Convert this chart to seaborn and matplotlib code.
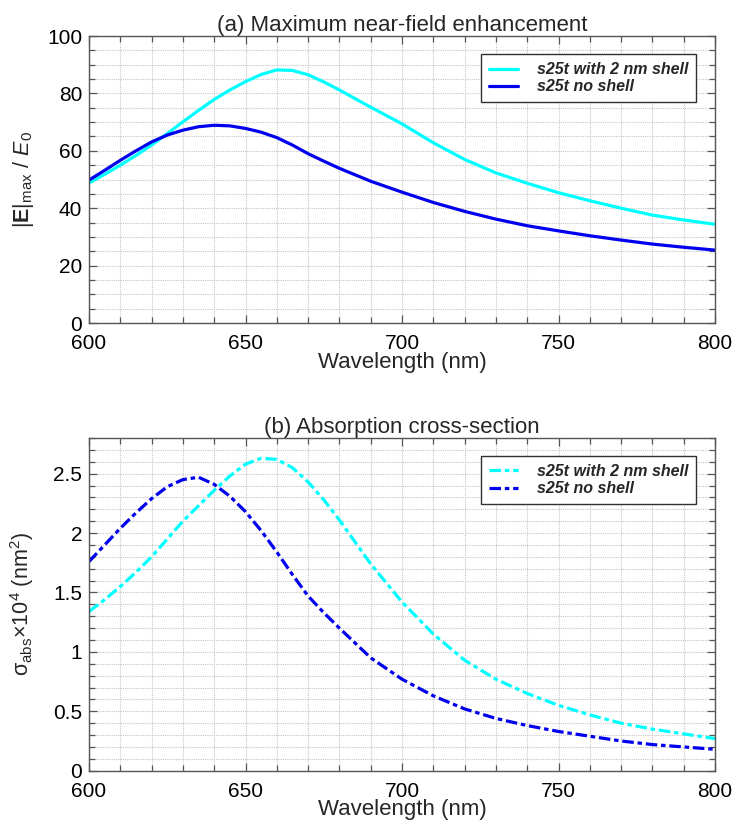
import numpy as np
import pandas as pd
import seaborn as sns
import matplotlib
matplotlib.use("Agg")
import matplotlib.pyplot as plt
from matplotlib.ticker import MultipleLocator, FuncFormatter

# ---------------- data ----------------
wavelength = [600, 605, 610, 615, 620, 625, 630, 635, 640, 645, 650, 655, 660, 665,
              670, 675, 680, 690, 700, 710, 720, 730, 740, 750, 760, 770, 780, 790, 800]

enh_shell = [48.8, 51.8, 55.0, 58.4, 62.0, 66.0, 70.1, 74.1, 77.9, 81.2, 84.1, 86.6, 88.2, 88.0,
             86.5, 84.0, 81.2, 75.2, 69.4, 62.8, 57.0, 52.3, 48.7, 45.4, 42.6, 40.0, 37.6, 35.9, 34.4]
enh_noshell = [49.8, 53.2, 56.7, 60.0, 63.1, 65.5, 67.2, 68.4, 68.9, 68.7, 67.8, 66.5, 64.6, 62.0,
               59.0, 56.4, 53.9, 49.4, 45.6, 42.0, 38.9, 36.2, 33.9, 32.1, 30.4, 28.9, 27.5, 26.4, 25.4]

abs_shell = [1.34, 1.44, 1.55, 1.67, 1.80, 1.95, 2.10, 2.23, 2.36, 2.48, 2.58, 2.63, 2.62, 2.55,
             2.43, 2.28, 2.11, 1.74, 1.42, 1.15, 0.93, 0.77, 0.65, 0.55, 0.47, 0.40, 0.35, 0.31, 0.27]
abs_noshell = [1.76, 1.90, 2.04, 2.17, 2.29, 2.39, 2.45, 2.47, 2.41, 2.31, 2.18, 2.02, 1.84, 1.65,
               1.47, 1.33, 1.20, 0.95, 0.77, 0.63, 0.52, 0.44, 0.38, 0.33, 0.29, 0.25, 0.22, 0.20, 0.18]

series_names = ["s25t with 2 nm shell", "s25t no shell"]
series_colors = ["#00FFFF", "#0000EE"]
xticks = [600, 650, 700, 750, 800]

title_a = "(a) Maximum near-field enhancement"
title_b = "(b) Absorption cross-section"
xlabel = "Wavelength (nm)"
ylabel_a = r"|$\mathbf{E}$|$_{\mathrm{max}}$ / $E_0$"
ylabel_b = r"σ$_{\mathrm{abs}}$×10$^4$ (nm$^2$)"

# ---------------- tables ----------------
df_a = pd.DataFrame({
    "wl": wavelength * 2,
    "val": enh_shell + enh_noshell,
    "series": [series_names[0]] * len(wavelength) + [series_names[1]] * len(wavelength),
})
df_b = pd.DataFrame({
    "wl": wavelength * 2,
    "val": abs_shell + abs_noshell,
    "series": [series_names[0]] * len(wavelength) + [series_names[1]] * len(wavelength),
})

# ---------------- style ----------------
sns.set_style("white")
plt.rcParams["font.family"] = ["Liberation Sans", "DejaVu Sans"]
plt.rcParams["mathtext.fontset"] = "custom"
plt.rcParams["mathtext.rm"] = "Liberation Sans"
plt.rcParams["mathtext.it"] = "Liberation Sans:italic"
plt.rcParams["mathtext.bf"] = "Liberation Sans:bold"

fig = plt.figure(figsize=(7.35, 8.34), dpi=100)
ax1 = fig.add_axes([0.1211, 0.6127, 0.8517, 0.3441])
ax2 = fig.add_axes([0.1211, 0.0759, 0.8517, 0.3989])

palette = dict(zip(series_names, series_colors))
lw = 2.3

sns.lineplot(data=df_a, x="wl", y="val", hue="series", hue_order=series_names,
             palette=palette, linewidth=lw, ax=ax1, legend=True)
dash_pat = (3.6, 1.2, 1.4, 1.2)
sns.lineplot(data=df_b, x="wl", y="val", hue="series", hue_order=series_names,
             style="series", style_order=series_names,
             dashes={series_names[0]: dash_pat, series_names[1]: dash_pat},
             palette=palette, linewidth=lw, ax=ax2, legend=True)

spine_col = "#555555"
grid_col = "#c6c6c6"


def style_axes(ax, ylim, ymajor, yminor, title, ylabel, legend_anchor):
    ax.set_xlim(600, 800)
    ax.set_ylim(*ylim)
    ax.set_xticks(xticks)
    ax.xaxis.set_minor_locator(MultipleLocator(10))
    ax.yaxis.set_major_locator(MultipleLocator(ymajor))
    ax.yaxis.set_minor_locator(MultipleLocator(yminor))
    ax.yaxis.set_major_formatter(FuncFormatter(lambda v, p: f"{v:g}"))
    ax.grid(True, which="both", color=grid_col, linestyle=(0, (1, 1)), linewidth=0.8)
    ax.set_axisbelow(True)
    for s in ax.spines.values():
        s.set_visible(True)
        s.set_color(spine_col)
        s.set_linewidth(1.0)
    ax.tick_params(which="both", direction="in", top=True, right=True,
                   bottom=True, left=True, color=spine_col, width=0.9)
    ax.tick_params(which="major", length=6, labelsize=15, labelcolor="black")
    ax.tick_params(axis="x", which="major", pad=8)
    ax.tick_params(axis="y", which="major", pad=5)
    ax.tick_params(which="minor", length=4)
    ax.set_title(title, fontsize=16, pad=3)
    ax.set_xlabel(xlabel, fontsize=16, labelpad=-1)
    ax.set_ylabel(ylabel, fontsize=15.5)
    ax.yaxis.set_label_coords(-0.085, 0.5)
    handles, labels = ax.get_legend_handles_labels()
    seen = {}
    for h, l in zip(handles, labels):
        if l in series_names:
            seen.setdefault(l, h)
    leg = ax.legend([seen[n] for n in series_names], series_names,
                    loc="upper right", bbox_to_anchor=legend_anchor, borderaxespad=0,
                    prop={"size": 11.5, "weight": "bold", "style": "italic"},
                    frameon=True, fancybox=False, framealpha=1, edgecolor="#303030",
                    handlelength=1.8, handletextpad=1.2, labelspacing=0.15,
                    borderpad=0.5)
    leg.get_frame().set_linewidth(1.0)


style_axes(ax1, (0, 100), 20, 5, title_a, ylabel_a, (0.970, 0.937))
style_axes(ax2, (0, 2.8), 0.5, 0.1, title_b, ylabel_b, (0.970, 0.946))

fig.savefig("out.png", dpi=100)
